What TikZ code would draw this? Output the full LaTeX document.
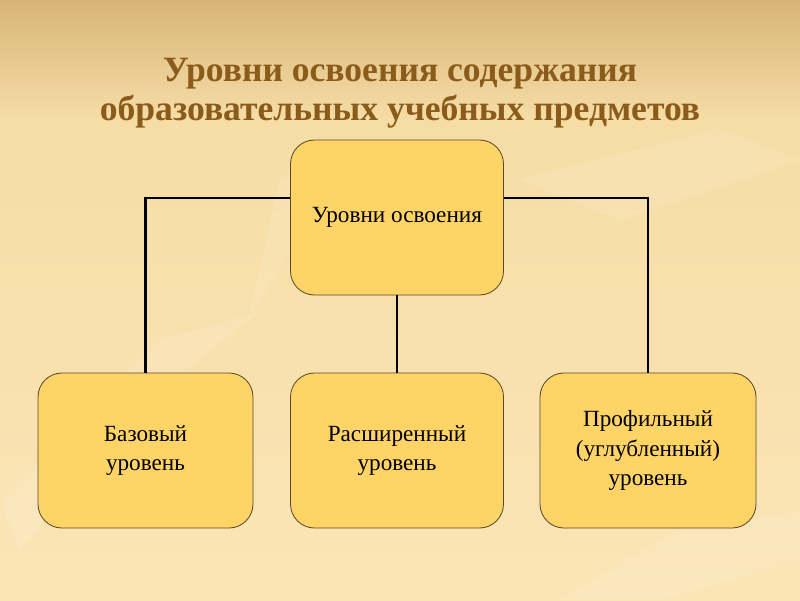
\documentclass[tikz,border=0pt]{standalone}
\usepackage{fontspec}
\setmainfont{Liberation Serif}
\usetikzlibrary{positioning}

\definecolor{titlebrown}{HTML}{8A5B1A}
\definecolor{boxfill}{HTML}{FFD466}
\definecolor{boxline}{HTML}{5A4A2A}
\definecolor{bgtop}{HTML}{D8B577}
\definecolor{bgmid}{HTML}{F6DDA6}
\definecolor{bgbot}{HTML}{FBE5B6}

\tikzset{
  level/.style={draw=boxline, line width=0.6pt, fill=boxfill, rounded corners=0.6cm,
    minimum height=3.875cm, align=center, font=\fontsize{16.5}{21}\selectfont},
  link/.style={line width=1.5pt, black},
}

\begin{document}
\begin{tikzpicture}
\useasboundingbox (0,0) rectangle (20,-15);
% background
\shade[top color=bgtop, bottom color=bgmid] (0,0) rectangle (20,-3);
\fill[bgmid] (0,-3) rectangle (20,-15);
\shade[top color=bgmid, bottom color=bgbot] (0,-3) rectangle (20,-15);
\fill[white, opacity=0.12] (0,-12.5) -- (4,-8.5) -- (6.5,-7.8) -- (3,-10.5) -- (0.5,-13.8) -- cycle;
\fill[white, opacity=0.10] (13,-4.5) -- (18,-3.2) -- (20,-4) -- (15.5,-5.5) -- cycle;
\fill[white, opacity=0.10] (14,-15) -- (17,-13.2) -- (20,-12.8) -- (20,-14) -- (16.5,-15) -- cycle;
\fill[white, opacity=0.10] (7,-4.5) -- (8.2,-3.6) -- (7.6,-5.8) -- (6.2,-8) -- cycle;

% title
\node[font=\fontsize{25.3}{27.5}\selectfont\bfseries, text=titlebrown, align=center]
  (title) at (10,-2.33) {Уровни освоения содержания\\образовательных учебных предметов};

% boxes
\node[level, minimum width=5.325cm] (top) at (9.925,-5.4375) {Уровни освоения};
\node[level, minimum width=5.375cm] (base) at (3.6375,-11.2625) {Базовый\\уровень};
\node[level, minimum width=5.325cm] (ext) at (9.925,-11.2625) {Расширенный\\уровень};
\node[level, minimum width=5.4cm] (prof) at (16.2,-11.2625) {Профильный\\(углубленный)\\уровень};

% connectors
\coordinate (jl) at ([yshift=0.49cm]top.west);
\coordinate (jr) at ([yshift=0.49cm]top.east);
\draw[link] (base.north) |- (jl);
\draw[link] (prof.north) |- (jr);
\draw[link] (top.south) -- (ext.north);
\end{tikzpicture}
\end{document}
